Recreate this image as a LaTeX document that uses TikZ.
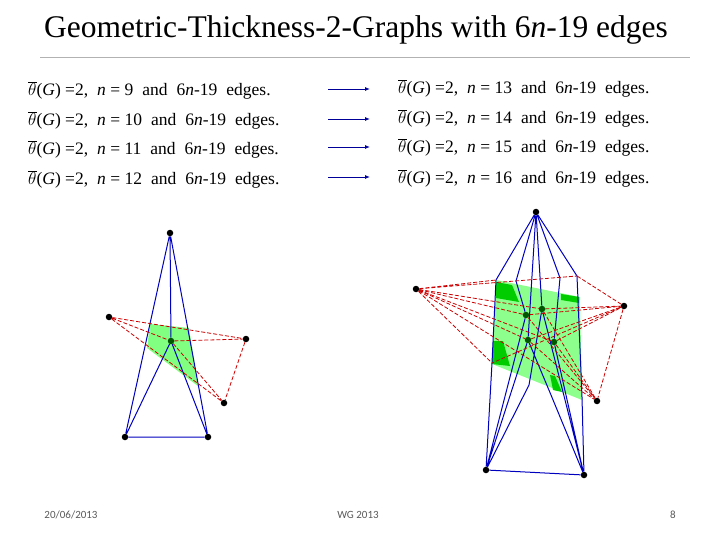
\documentclass[tikz,border=0pt]{standalone}
\usepackage{fontspec}
\setmainfont{Liberation Serif}
\newfontfamily\foot{Carlito}
\usetikzlibrary{arrows.meta}
\begin{document}
\begin{tikzpicture}[x=1pt,y=-1pt,
  bl/.style={draw=blue!75!black,line width=1pt},
  rd/.style={draw=red!80!black,dash pattern=on 4pt off 2pt,line width=0.8pt},
  dot/.style={circle,fill=black,inner sep=0pt,minimum size=6.5pt},
  gdot/.style={circle,fill=green!35!black,inner sep=0pt,minimum size=6.5pt},
  txt/.style={anchor=west,inner sep=0pt,font=\fontsize{17.5}{20}\selectfont},
  arr/.style={draw=blue!60!black,-{Latex[length=5pt,width=4pt]},line width=0.9pt}]
\useasboundingbox (0,0) rectangle (720,540);
\node[font=\fontsize{31.5}{34}\selectfont] (title) at (356,30) {Geometric-Thickness-2-Graphs with 6\textit{n}-19 edges};
\draw[gray!60] (40,57) -- (690,57);
\newcommand{\wsp}{\hspace{9pt}}
\newcommand{\thg}{$\overline{\theta}$(\textit{G}) =2,\wsp\textit{n} = }
\node[txt] (l1) at (28,90) {\thg 9\wsp and\wsp 6\textit{n}-19\wsp edges.};
\node[txt] (l2) at (28,120) {\thg 10\wsp and\wsp 6\textit{n}-19\wsp edges.};
\node[txt] (l3) at (28,149) {\thg 11\wsp and\wsp 6\textit{n}-19\wsp edges.};
\node[txt] (l4) at (28,179) {\thg 12\wsp and\wsp 6\textit{n}-19\wsp edges.};
\node[txt] (r1) at (398,88) {\thg 13\wsp and\wsp 6\textit{n}-19\wsp edges.};
\node[txt] (r2) at (398,118) {\thg 14\wsp and\wsp 6\textit{n}-19\wsp edges.};
\node[txt] (r3) at (398,147) {\thg 15\wsp and\wsp 6\textit{n}-19\wsp edges.};
\node[txt] (r4) at (398,178) {\thg 16\wsp and\wsp 6\textit{n}-19\wsp edges.};
\coordinate (a1) at (328,89); \coordinate (b1) at (370,89);
\coordinate (a2) at (328,119); \coordinate (b2) at (370,119);
\coordinate (a3) at (328,147); \coordinate (b3) at (370,147);
\coordinate (a4) at (328,177); \coordinate (b4) at (370,177);
\foreach \i in {1,...,4} \draw[arr] (a\i) -- (b\i);
% left figure
\fill[green!70!white,opacity=0.7] (150,324) -- (189,328) -- (198,386) -- (147,348) -- cycle;
\node[dot] (T) at (170,233) {};
\node[dot] (L) at (109,317) {};
\node[dot] (R) at (246,339) {};
\node[dot] (B) at (224,403) {};
\node[gdot] (C) at (171,341) {};
\node[dot] (BL) at (125,437) {};
\node[dot] (BR) at (208,437) {};
\draw[bl] (T)--(BL) (T)--(BR) (T)--(C) (C)--(BL) (C)--(BR) (BL)--(BR);
\draw[rd] (L)--(R) (L)--(C) (L)--(B) (C)--(R) (C)--(B) (R)--(B);
% right figure
\fill[green!45!white] (496,280) -- (580,297) -- (582,400) -- (492,364) -- cycle;
\fill[green!80!black] (496,282) -- (512,285) -- (519,302) -- (496,298) -- cycle;
\fill[green!80!black] (561,294) -- (579,297) -- (579,303) -- (561,300) -- cycle;
\fill[green!80!black] (493,341) -- (503,341) -- (510,366) -- (492,364) -- cycle;
\fill[green!80!black] (550,375) -- (555,376) -- (562,392) -- (553,390) -- cycle;
\node[dot] (T2) at (536,212) {};
\node[dot] (L2) at (416,289) {};
\node[dot] (R2) at (624,306) {};
\node[dot] (B2) at (597,401) {};
\node[dot] (BL2) at (486,470) {};
\node[dot] (BR2) at (584,475) {};
\node[gdot] (c1) at (526,315) {};
\node[gdot] (c2) at (542,309) {};
\node[gdot] (c3) at (528,340) {};
\node[gdot] (c4) at (554,342) {};
\coordinate (u1) at (496,280); \coordinate (u2) at (516,281);
\coordinate (u3) at (560,278); \coordinate (u4) at (577,276);
\coordinate (d1) at (492,363); \coordinate (d2) at (529,385);
\coordinate (d3) at (551,395); \coordinate (d4) at (582,397);
\draw[bl] (T2)--(u1)--(d1)--(BL2) (T2)--(u2)--(c1) (T2)--(u3)--(c4)
  (T2)--(u4)--(d4)--(BR2) (c2)--(d2)--(BL2) (c3)--(d3)--(BR2)
  (T2)--(c2) (T2)--(c3) (c1)--(BL2) (c3)--(BL2) (c2)--(BR2) (c4)--(BR2)
  (BL2)--(BR2);
\foreach \c in {c1,c2,c3,c4} { \draw[rd] (L2)--(\c) (\c)--(R2) (\c)--(B2); }
\draw[rd] (L2)--(u1) (L2)--(u4) (L2)--(d1) (L2)--(B2) (R2)--(B2) (R2)--(u4) (R2)--(d1);
\node[font=\foot\fontsize{11}{13}\selectfont,text=gray!70!black] (f1) at (71,515) {20/06/2013};
\node[font=\foot\fontsize{11}{13}\selectfont,text=gray!70!black] (f2) at (358,515) {WG 2013};
\node[font=\foot\fontsize{11}{13}\selectfont,text=gray!70!black] (f3) at (673,515) {8};
\end{tikzpicture}
\end{document}
